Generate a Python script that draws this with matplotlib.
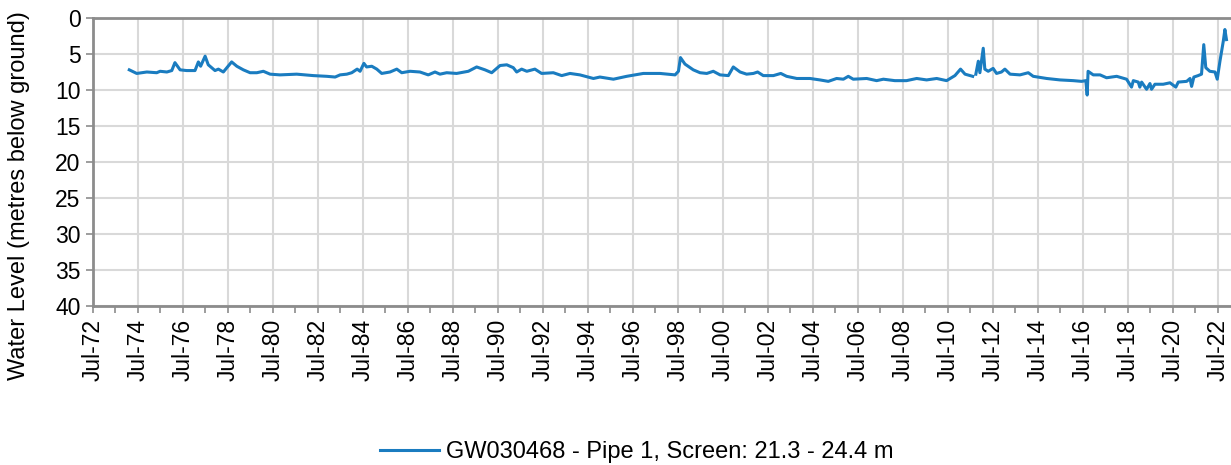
import datetime as dt
import numpy as np
import matplotlib
matplotlib.use("Agg")
import matplotlib.pyplot as plt
import matplotlib.dates as mdates

plt.rcParams['font.family'] = ['Liberation Sans', 'DejaVu Sans']

# readings: decimal year, water level (m below ground); nan = gap in record
years = [1974.11, 1974.44, 1974.89, 1975.33, 1975.48, 1975.78, 1976.00, 1976.14, 1976.37, 1976.66,
         1977.03, 1977.18, 1977.28, 1977.48, 1977.62, 1977.92, 1978.07, 1978.29, 1978.66, 1978.89,
         1979.18, 1979.48, 1979.78, 1980.07, 1980.37, 1980.81, 1981.55, 1982.29, 1982.89, 1983.26,
         1983.48, 1983.78, 1984.00, 1984.24, 1984.37, 1984.54, 1984.66, 1984.89, 1985.11, 1985.33,
         1985.70, 1986.00, 1986.22, 1986.59, 1987.03, 1987.40, 1987.70, 1987.92, 1988.22, 1988.66,
         1989.18, 1989.55, 1989.92, 1990.22, 1990.59, 1990.89, 1991.18, 1991.33, 1991.55, 1991.78,
         1992.14, 1992.44, 1992.96, 1993.33, 1993.70, 1994.14, 1994.74, 1995.03, 1995.63, 1996.22,
         1996.96, 1997.70, 1998.37, 1998.52, 1998.61, 1998.81, 1999.18, 1999.48, 1999.78, 2000.07,
         2000.37, 2000.74, 2000.96, 2001.26, 2001.55, 2001.85, 2002.04, 2002.29, 2002.74, 2003.07,
         2003.33, 2003.78, 2004.37, 2004.81, 2005.18, 2005.55, 2005.85, 2006.07, 2006.29, 2006.89,
         2007.33, 2007.63, 2008.14, 2008.66, 2009.11, 2009.55, 2010.00, 2010.44, 2010.81, 2011.06,
         2011.26, 2011.60, 2011.67, 2011.74, 2011.85, 2011.92, 2012.07, 2012.14, 2012.29, 2012.51,
         2012.66, 2012.88, 2013.03, 2013.26, 2013.70, 2014.07, 2014.29, 2014.89, 2015.48, 2016.07,
         2016.44, 2016.63, 2016.69, 2016.73, 2016.96, 2017.26, 2017.55, 2018.00, 2018.44, 2018.66,
         2018.74, 2018.96, 2019.03, 2019.11, 2019.33, 2019.48, 2019.55, 2019.70, 2020.07, 2020.37,
         2020.63, 2020.74, 2021.11, 2021.26, 2021.33, 2021.43, 2021.62, 2021.77, 2021.87, 2021.96,
         2022.14, 2022.37, 2022.47, 2022.59, 2022.74, 2022.81, 2022.88]
levels = [7.2, 7.7, 7.5, 7.6, 7.4, 7.5, 7.3, 6.2, 7.2, 7.3,
          7.3, 6.1, 6.7, 5.3, 6.5, 7.3, 7.1, 7.5, 6.1, 6.7,
          7.2, 7.6, 7.6, 7.4, 7.8, 7.9, 7.8, 8.0, 8.1, 8.2,
          7.9, 7.8, 7.6, 7.1, 7.4, 6.3, 6.8, 6.7, 7.1, 7.7,
          7.5, 7.1, 7.6, 7.4, 7.5, 7.9, 7.5, 7.8, 7.6, 7.7,
          7.4, 6.8, 7.2, 7.6, 6.6, 6.5, 6.9, 7.5, 7.1, 7.4,
          7.1, 7.7, 7.6, 8.0, 7.7, 7.9, 8.4, 8.2, 8.5, 8.1,
          7.7, 7.7, 7.9, 7.4, 5.5, 6.4, 7.2, 7.6, 7.7, 7.4,
          7.9, 8.0, 6.8, 7.5, 7.8, 7.7, 7.5, 8.0, 8.0, 7.7,
          8.1, 8.4, 8.4, 8.6, 8.8, 8.4, 8.5, 8.1, 8.5, 8.4,
          8.7, 8.5, 8.7, 8.7, 8.4, 8.6, 8.4, 8.7, 8.0, 7.1,
          7.8, 8.1, np.nan, 7.8, 6.0, 7.6, 4.2, 7.1, 7.4, 7.0,
          7.7, 7.5, 7.1, 7.8, 7.9, 7.6, 8.1, 8.4, 8.6, 8.7,
          8.8, 8.7, 10.7, 7.4, 7.9, 7.9, 8.3, 8.1, 8.5, 9.6,
          8.7, 8.9, 9.6, 8.9, 9.9, 9.1, 9.9, 9.2, 9.2, 9.0,
          9.6, 8.9, 8.8, 8.4, 9.5, 8.2, 8.0, 7.8, 3.7, 6.9,
          7.4, 7.5, 8.5, 6.0, 3.2, 1.6, 3.0]

series_name = "GW030468 - Pipe 1, Screen: 21.3 - 24.4 m"
y_label = "Water Level (metres below ground)"


def to_date(y):
    yr = int(y)
    return dt.datetime(yr, 1, 1) + dt.timedelta(days=(y - yr) * 365.25)


dates = [to_date(y) for y in years]

fig = plt.figure(figsize=(12.31, 4.65), dpi=100)
ax = fig.add_axes([93 / 1231, 1 - 306 / 465, 1 - 93 / 1231, 288 / 465])

ax.plot(dates, levels, color="#1a7cc0", linewidth=2.2, label=series_name)

ax.set_ylim(40, 0)
ax.set_yticks(np.arange(0, 41, 5))
ax.set_xlim(dt.datetime(1972, 7, 1), dt.datetime(2023, 1, 31))
ax.xaxis.set_major_locator(mdates.YearLocator(base=2, month=7, day=1))
ax.xaxis.set_minor_locator(mdates.YearLocator(base=1, month=7, day=1))
ax.xaxis.set_major_formatter(mdates.DateFormatter('%b-%y'))
plt.setp(ax.get_xticklabels(), rotation=90)

ax.grid(True, which='major', color='#d9d9d9', linewidth=1.5)
ax.set_axisbelow(True)
for side in ['left', 'top', 'bottom']:
    ax.spines[side].set_color('#8c8c8c')
    ax.spines[side].set_linewidth(2)
ax.spines['right'].set_visible(False)

ax.tick_params(axis='both', which='major', length=5, width=1.2, color='#8c8c8c',
               labelsize=16.5, pad=4)
ax.tick_params(axis='x', which='minor', length=5, width=1.2, color='#8c8c8c')
ax.set_ylabel(y_label, fontsize=17)
ax.yaxis.set_label_coords(-0.055, 0.385)

fig.legend(loc='center', bbox_to_anchor=(637 / 1231, 1 - 452 / 465), frameon=False,
           fontsize=17, handlelength=2.5, handletextpad=0.3)

fig.savefig("out.png", dpi=100)
